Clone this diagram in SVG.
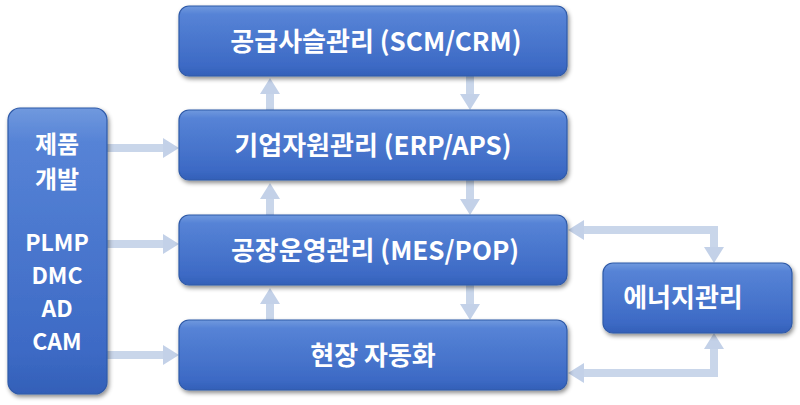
<svg xmlns="http://www.w3.org/2000/svg" width="800" height="405" viewBox="0 0 800 405">
<defs>
<linearGradient id="bf" x1="0" y1="0" x2="0" y2="1">
<stop offset="0" stop-color="#7099de"/>
<stop offset="0.12" stop-color="#5683d6"/>
<stop offset="0.85" stop-color="#3d6ac5"/>
<stop offset="1" stop-color="#3360b8"/>
</linearGradient>
<filter id="sh" x="-10%" y="-10%" width="130%" height="140%">
<feDropShadow dx="1.5" dy="2.5" stdDeviation="2" flood-color="#000" flood-opacity="0.45"/>
</filter>
<marker id="ah" viewBox="0 0 16 20" refX="2" refY="10" markerWidth="16" markerHeight="20" markerUnits="userSpaceOnUse" orient="auto-start-reverse">
<path d="M0,0 L16,10 L0,20 Z" fill="#c3d1e8"/>
</marker>
<style>
.box{fill:url(#bf);stroke:#2f5aa8;stroke-width:1.2;filter:url(#sh)}
.t{fill:#fff;font-family:"Noto Sans CJK KR","Open Sans",sans-serif;font-weight:bold;text-anchor:middle}
.c{fill:none;stroke:#c9d6ea;stroke-width:8;marker-end:url(#ah)}
.c2{fill:none;stroke:#c9d6ea;stroke-width:8;marker-start:url(#ah);marker-end:url(#ah)}
</style>
</defs>
<g id="connectors">
<path class="c" d="M107,148 H165"/>
<path class="c" d="M107,244 H165"/>
<path class="c" d="M107,355 H165"/>
<path class="c" d="M270,110 V92"/>
<path class="c" d="M270,215 V197"/>
<path class="c" d="M270,320 V302"/>
<path class="c" d="M470,76 V96"/>
<path class="c" d="M470,180 V201"/>
<path class="c" d="M470,285 V306"/>
<path class="c2" d="M582,230 H714 V249"/>
<path class="c2" d="M582,373 H714 V347"/>
</g>
<g id="n_dev">
<rect class="box" x="8" y="108" width="99" height="286" rx="12"/>
<text class="t" x="57" y="153" font-size="24">제품</text>
<text class="t" x="57" y="188" font-size="24">개발</text>
<text class="t" x="57" y="251" font-size="23">PLMP</text>
<text class="t" x="57" y="284" font-size="23">DMC</text>
<text class="t" x="57" y="317" font-size="23">AD</text>
<text class="t" x="57" y="350" font-size="23">CAM</text>
</g>
<g id="n_scm">
<rect class="box" x="179" y="6" width="388" height="70" rx="10"/>
<text class="t" x="376" y="51" font-size="26">공급사슬관리 (SCM/CRM)</text>
</g>
<g id="n_erp">
<rect class="box" x="179" y="110" width="388" height="70" rx="10"/>
<text class="t" x="373" y="155" font-size="26">기업자원관리 (ERP/APS)</text>
</g>
<g id="n_mes">
<rect class="box" x="179" y="215" width="388" height="70" rx="10"/>
<text class="t" x="375" y="260" font-size="26">공장운영관리 (MES/POP)</text>
</g>
<g id="n_field">
<rect class="box" x="179" y="320" width="388" height="70" rx="10"/>
<text class="t" x="373" y="365" font-size="26">현장 자동화</text>
</g>
<g id="n_energy">
<rect class="box" x="603" y="263" width="189" height="70" rx="10"/>
<text class="t" x="683" y="307" font-size="26">에너지관리</text>
</g>
</svg>
